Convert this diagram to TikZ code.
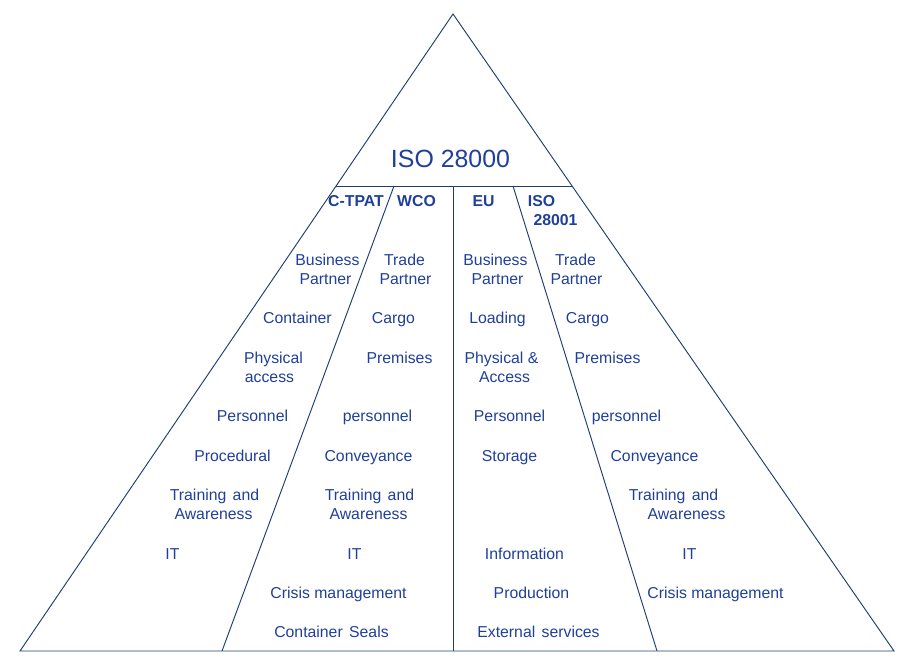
\documentclass[tikz,border=0pt]{standalone}
\usepackage{fontspec}
\setmainfont{Liberation Sans}
\definecolor{linecol}{HTML}{1F3F73}
\definecolor{textcol}{HTML}{1F3F9A}
\newcommand{\widegap}{~\kern2pt}

\begin{document}
\begin{tikzpicture}[x=1pt,y=-1pt]
    \tikzset{item/.style = {text=textcol, align=center, inner sep=0pt, xshift=0.5pt, text height=14.5pt, text depth=3.5pt, font=\fontsize{15.8}{19}\selectfont}}
    \tikzset{head/.style = {item, font=\fontsize{15.8}{19}\selectfont\bfseries}}
    \tikzset{title/.style = {item, text height=20pt, text depth=5pt, font=\fontsize{24.9}{28}\selectfont}}
    \tikzset{edge/.style = {draw=linecol, line width=0.95pt, -}}
    \useasboundingbox (0,0) rectangle (911,658);

    % corners
    \coordinate (apex) at (453,14);
    \coordinate (left) at (20,651);
    \coordinate (right) at (894,651);
    \coordinate (barl) at (336,186);
    \coordinate (barr) at (572,186);
    \coordinate (divl) at (394,186);
    \coordinate (divm) at (453,186);
    \coordinate (divr) at (513,186);
    \coordinate (footl) at (222,651);
    \coordinate (footm) at (453,651);
    \coordinate (footr) at (657,651);

    % edges
    \draw [edge] (apex) -- (left) -- (right) -- cycle;
    \draw [edge] (barl) -- (barr);
    \draw [edge] (divl) -- (footl);
    \draw [edge] (divm) -- (footm);
    \draw [edge] (divr) -- (footr);

    % heads
    \node[title] (iso) at (450,160) {ISO 28000};
    \node[head] (ctpat) at (355.5,201) {C-TPAT};
    \node[head] (wco) at (416,201) {WCO};
    \node[head] (eu) at (483,201) {EU};
    \node[head] (isoa) at (541,201) {ISO};
    \node[head] (isob) at (555,220) {28001};

    % first column
    \node[item] (a1) at (327,260) {Business};
    \node[item] (a2) at (325,279) {Partner};
    \node[item] (a3) at (297,318) {Container};
    \node[item] (a4) at (273,358) {Physical};
    \node[item] (a5) at (269,377) {access};
    \node[item] (a6) at (252,416) {Personnel};
    \node[item] (a7) at (232,456) {Procedural};
    \node[item] (a8) at (214,495) {Training\widegap and};
    \node[item] (a9) at (213,514) {Awareness};
    \node[item] (a10) at (172,554) {IT};

    % second column
    \node[item] (b1) at (404,260) {Trade};
    \node[item] (b2) at (405,279) {Partner};
    \node[item] (b3) at (393,318) {Cargo};
    \node[item] (b4) at (399,358) {Premises};
    \node[item] (b5) at (377,416) {personnel};
    \node[item] (b6) at (368,456) {Conveyance};
    \node[item] (b7) at (369,495) {Training\widegap and};
    \node[item] (b8) at (368,514) {Awareness};
    \node[item] (b9) at (354,554) {IT};
    \node[item] (b10) at (338,593) {Crisis management};
    \node[item] (b11) at (331,632) {Container\widegap Seals};

    % third column
    \node[item] (c1) at (495,260) {Business};
    \node[item] (c2) at (497,279) {Partner};
    \node[item] (c3) at (497,318) {Loading};
    \node[item] (c4) at (501,358) {Physical \&};
    \node[item] (c5) at (504,377) {Access};
    \node[item] (c6) at (509,416) {Personnel};
    \node[item] (c7) at (509,456) {Storage};
    \node[item] (c8) at (524,554) {Information};
    \node[item] (c9) at (531,593) {Production};
    \node[item] (c10) at (538,632) {External\widegap services};

    % fourth column
    \node[item] (d1) at (575,260) {Trade};
    \node[item] (d2) at (576,279) {Partner};
    \node[item] (d3) at (587,318) {Cargo};
    \node[item] (d4) at (607,358) {Premises};
    \node[item] (d5) at (626,416) {personnel};
    \node[item] (d6) at (654,456) {Conveyance};
    \node[item] (d7) at (673,495) {Training\widegap and};
    \node[item] (d8) at (686,514) {Awareness};
    \node[item] (d9) at (689,554) {IT};
    \node[item] (d10) at (715,593) {Crisis management};
\end{tikzpicture}
\end{document}
